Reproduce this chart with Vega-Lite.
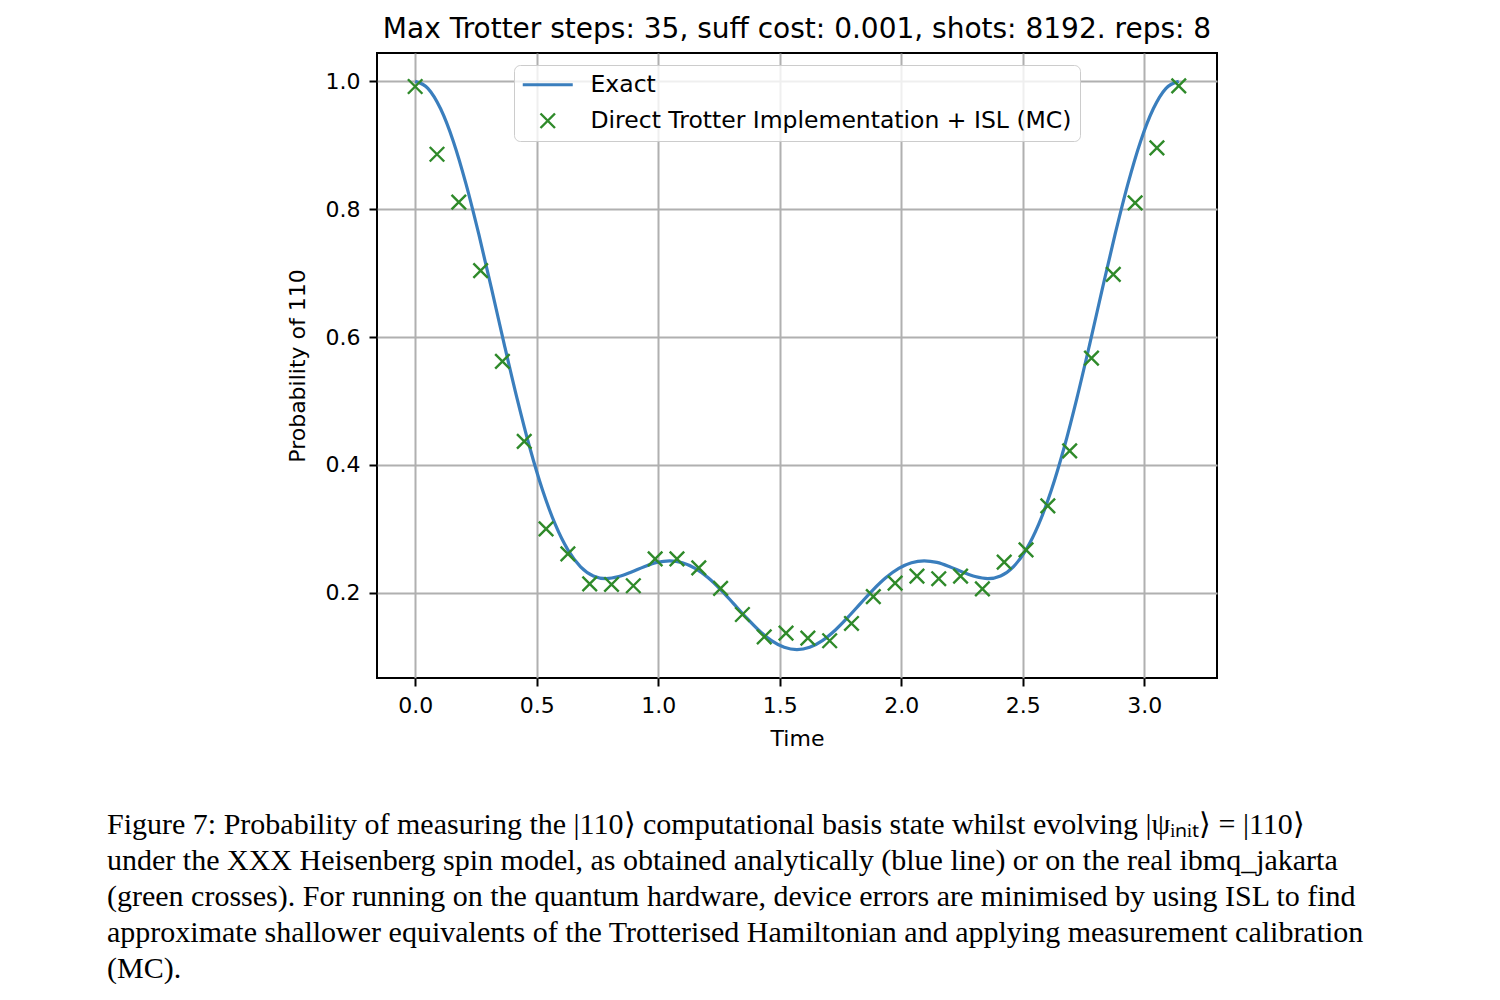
{
  "$schema": "https://vega.github.io/schema/vega-lite/v6.json",
  "background": "white",
  "padding": {"left": 107, "top": 15, "right": 0, "bottom": 0},
  "title": {
    "text": [
      "Figure 7: Probability of measuring the |110⟩ computational basis state whilst evolving |ψᵢₙᵢₜ⟩ = |110⟩",
      "under the XXX Heisenberg spin model, as obtained analytically (blue line) or on the real ibmq_jakarta",
      "(green crosses). For running on the quantum hardware, device errors are minimised by using ISL to find",
      "approximate shallower equivalents of the Trotterised Hamiltonian and applying measurement calibration",
      "(MC)."
    ],
    "orient": "bottom",
    "anchor": "start",
    "frame": "bounds",
    "font": "Liberation Serif",
    "fontSize": 30,
    "fontWeight": "normal",
    "lineHeight": 36,
    "color": "black",
    "dx": -178,
    "offset": 60
  },
  "datasets": {
    "exact": [
      {"t": 0, "p": 1}, {"t": 0.0524, "p": 0.9891}, {"t": 0.1047, "p": 0.9571}, {"t": 0.1571, "p": 0.9061},
      {"t": 0.2094, "p": 0.8393}, {"t": 0.2618, "p": 0.7609}, {"t": 0.3142, "p": 0.6757}, {"t": 0.3665, "p": 0.5887},
      {"t": 0.4189, "p": 0.5046}, {"t": 0.4712, "p": 0.4276}, {"t": 0.5236, "p": 0.3611}, {"t": 0.576, "p": 0.3073},
      {"t": 0.6283, "p": 0.2672}, {"t": 0.6807, "p": 0.2406}, {"t": 0.733, "p": 0.2264}, {"t": 0.7854, "p": 0.2222},
      {"t": 0.8378, "p": 0.2254}, {"t": 0.8901, "p": 0.2326}, {"t": 0.9425, "p": 0.2409}, {"t": 0.9948, "p": 0.2475},
      {"t": 1.0472, "p": 0.25}, {"t": 1.0996, "p": 0.2471}, {"t": 1.1519, "p": 0.2383}, {"t": 1.2043, "p": 0.2239},
      {"t": 1.2566, "p": 0.2051}, {"t": 1.309, "p": 0.1835}, {"t": 1.3614, "p": 0.1616}, {"t": 1.4137, "p": 0.1414},
      {"t": 1.4661, "p": 0.1252}, {"t": 1.5184, "p": 0.1147}, {"t": 1.5708, "p": 0.1111}, {"t": 1.6232, "p": 0.1147},
      {"t": 1.6755, "p": 0.1252}, {"t": 1.7279, "p": 0.1414}, {"t": 1.7802, "p": 0.1616}, {"t": 1.8326, "p": 0.1835},
      {"t": 1.885, "p": 0.2051}, {"t": 1.9373, "p": 0.2239}, {"t": 1.9897, "p": 0.2383}, {"t": 2.042, "p": 0.2471},
      {"t": 2.0944, "p": 0.25}, {"t": 2.1468, "p": 0.2475}, {"t": 2.1991, "p": 0.2409}, {"t": 2.2515, "p": 0.2326},
      {"t": 2.3038, "p": 0.2254}, {"t": 2.3562, "p": 0.2222}, {"t": 2.4086, "p": 0.2264}, {"t": 2.4609, "p": 0.2406},
      {"t": 2.5133, "p": 0.2672}, {"t": 2.5656, "p": 0.3073}, {"t": 2.618, "p": 0.3611}, {"t": 2.6704, "p": 0.4276},
      {"t": 2.7227, "p": 0.5046}, {"t": 2.7751, "p": 0.5887}, {"t": 2.8274, "p": 0.6757}, {"t": 2.8798, "p": 0.7609},
      {"t": 2.9322, "p": 0.8393}, {"t": 2.9845, "p": 0.9061}, {"t": 3.0369, "p": 0.9571}, {"t": 3.0892, "p": 0.9891},
      {"t": 3.1416, "p": 1}
    ],
    "measured": [
      {"t": 0, "p": 0.992}, {"t": 0.0898, "p": 0.886}, {"t": 0.1795, "p": 0.811}, {"t": 0.2693, "p": 0.704},
      {"t": 0.359, "p": 0.562}, {"t": 0.4488, "p": 0.437}, {"t": 0.5386, "p": 0.3}, {"t": 0.6283, "p": 0.261},
      {"t": 0.7181, "p": 0.214}, {"t": 0.8078, "p": 0.213}, {"t": 0.8976, "p": 0.211}, {"t": 0.9874, "p": 0.253},
      {"t": 1.0771, "p": 0.253}, {"t": 1.1669, "p": 0.239}, {"t": 1.2566, "p": 0.207}, {"t": 1.3464, "p": 0.166},
      {"t": 1.4362, "p": 0.131}, {"t": 1.5259, "p": 0.137}, {"t": 1.6157, "p": 0.129}, {"t": 1.7054, "p": 0.125},
      {"t": 1.7952, "p": 0.152}, {"t": 1.885, "p": 0.194}, {"t": 1.9747, "p": 0.215}, {"t": 2.0645, "p": 0.226},
      {"t": 2.1542, "p": 0.222}, {"t": 2.244, "p": 0.226}, {"t": 2.3338, "p": 0.206}, {"t": 2.4235, "p": 0.248},
      {"t": 2.5133, "p": 0.267}, {"t": 2.603, "p": 0.336}, {"t": 2.6928, "p": 0.422}, {"t": 2.7826, "p": 0.567},
      {"t": 2.8723, "p": 0.698}, {"t": 2.9621, "p": 0.81}, {"t": 3.0518, "p": 0.896}, {"t": 3.1416, "p": 0.993}
    ]
  },
  "vconcat": [
    {
      "width": 840,
      "height": 625,
      "title": {
        "text": "Max Trotter steps: 35, suff cost: 0.001, shots: 8192. reps: 8",
        "font": "DejaVu Sans",
        "fontSize": 28,
        "fontWeight": "normal",
        "color": "black",
        "anchor": "middle",
        "offset": 9
      },
      "layer": [
        {
          "data": {"name": "exact"},
          "mark": {"type": "line", "strokeWidth": 3.2, "interpolate": "monotone"},
          "encoding": {
            "x": {"field": "t", "type": "quantitative"},
            "y": {"field": "p", "type": "quantitative"},
            "color": {"datum": "Exact"}
          }
        },
        {
          "data": {"name": "measured"},
          "mark": {"type": "point", "shape": "M-1,-1L1,1M1,-1L-1,1", "filled": false, "size": 210, "strokeWidth": 2.4, "opacity": 1},
          "encoding": {
            "x": {"field": "t", "type": "quantitative"},
            "y": {"field": "p", "type": "quantitative"},
            "color": {"datum": "Direct Trotter Implementation + ISL (MC)"}
          }
        }
      ],
      "resolve": {"scale": {"color": "shared"}},
      "encoding": {
        "x": {
          "field": "t", "type": "quantitative",
          "scale": {"domain": [-0.157, 3.299], "nice": false, "zero": false},
          "axis": {"title": "Time", "values": [0, 0.5, 1, 1.5, 2, 2.5, 3], "format": ".1f", "titlePadding": 12}
        },
        "y": {
          "field": "p", "type": "quantitative",
          "scale": {"domain": [0.0667, 1.0444], "nice": false, "zero": false},
          "axis": {"title": "Probability of 110", "values": [0.2, 0.4, 0.6, 0.8, 1.0], "format": ".1f", "titlePadding": 16}
        },
        "color": {
          "type": "nominal",
          "scale": {"domain": ["Exact", "Direct Trotter Implementation + ISL (MC)"], "range": ["#3a7ebd", "#2f8a2a"]},
          "legend": {
            "orient": "none",
            "legendX": 137,
            "legendY": 12,
            "title": null,
            "labelFont": "DejaVu Sans",
            "labelFontSize": 23.5,
            "labelColor": "black",
            "labelLimit": 0,
            "symbolSize": 2500,
            "symbolStrokeWidth": 3,
            "symbolOffset": 14,
            "labelOffset": 31,
            "padding": 8,
            "rowPadding": 11,
            "strokeColor": "#cccccc",
            "fillColor": "rgba(255,255,255,0.8)",
            "cornerRadius": 6,
            "encode": {
              "symbols": {
                "update": {
                  "shape": {"signal": "datum.value === 'Exact' ? 'stroke' : 'M-1,-1L1,1M1,-1L-1,1'"},
                  "size": {"signal": "datum.value === 'Exact' ? 2500 : 210"},
                  "strokeWidth": {"signal": "datum.value === 'Exact' ? 3.2 : 2.4"},
                  "stroke": {"signal": "scale('color', datum.value)"},
                  "fill": {"value": "transparent"},
                  "opacity": {"value": 1}
                }
              }
            }
          }
        }
      }
    }
  ],
  "config": {
    "font": "DejaVu Sans",
    "view": {"stroke": "black", "strokeWidth": 2},
    "axis": {
      "domain": false,
      "grid": true,
      "gridColor": "#b0b0b0",
      "gridWidth": 2,
      "tickColor": "black",
      "tickWidth": 2,
      "tickSize": 8,
      "labelFont": "DejaVu Sans",
      "labelFontSize": 22,
      "labelColor": "black",
      "labelPadding": 9,
      "titleFont": "DejaVu Sans",
      "titleFontSize": 22,
      "titleFontWeight": "normal",
      "titleColor": "black"
    }
  }
}
